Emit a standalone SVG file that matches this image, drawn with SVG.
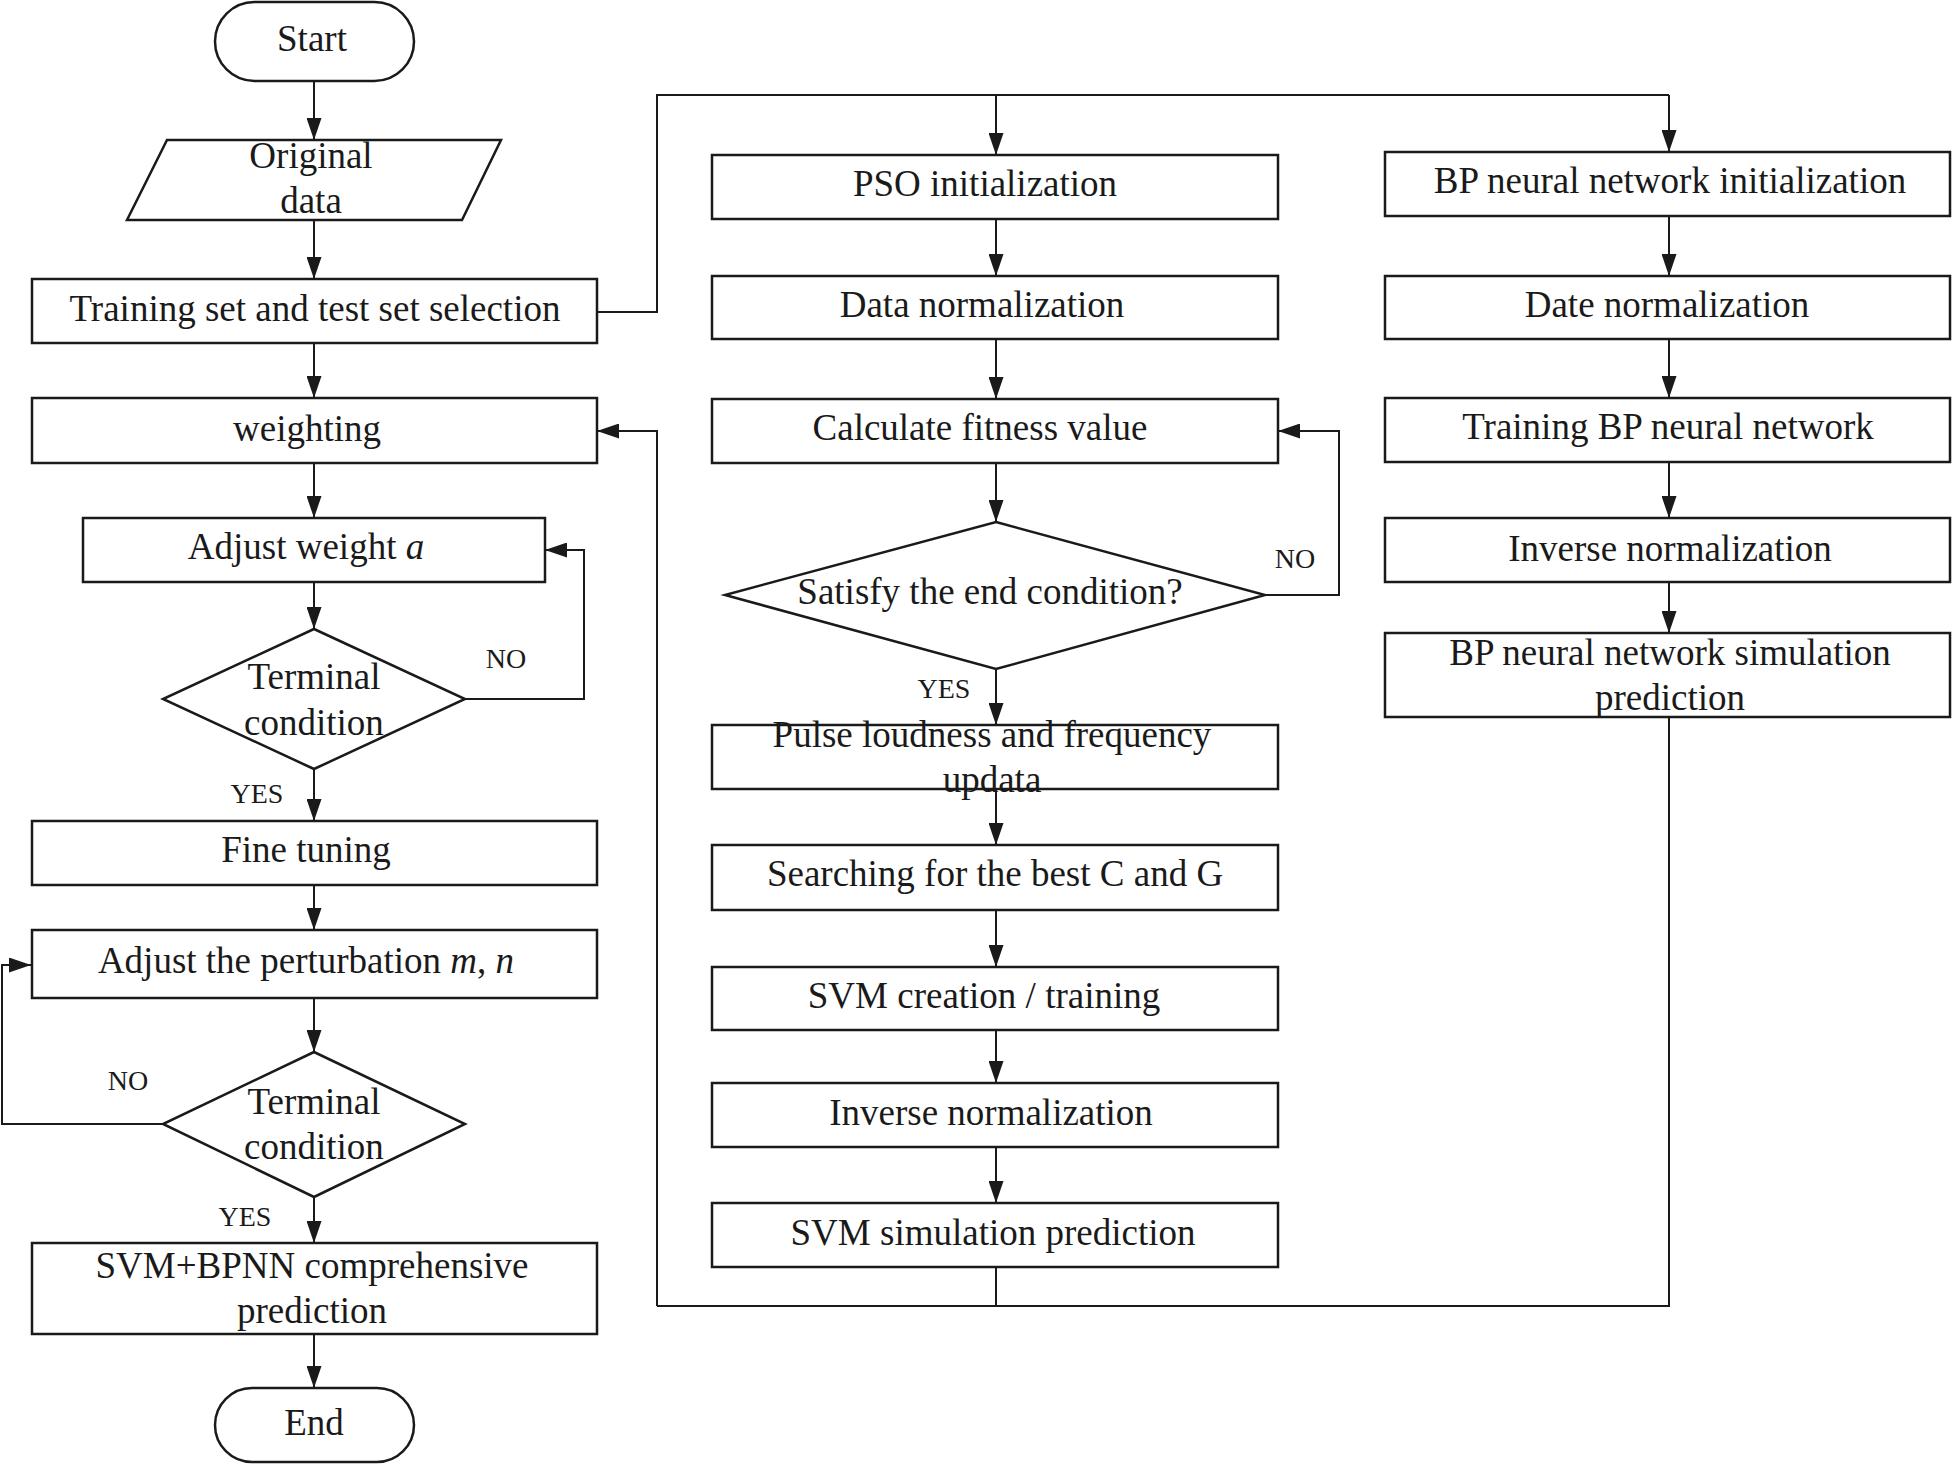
<svg xmlns="http://www.w3.org/2000/svg" width="1952" height="1465" viewBox="0 0 1952 1465">
<style>
.s{fill:#fff;stroke:#1a1a1a;stroke-width:2.5}
.t{font-family:"Liberation Serif","Times New Roman",serif;font-size:37px;fill:#1a1a1a;text-anchor:middle}
.l{font-family:"Liberation Serif","Times New Roman",serif;font-size:28px;fill:#1a1a1a;text-anchor:middle}
.c{fill:none;stroke:#1a1a1a;stroke-width:2}
.i{font-style:italic}
</style>
<defs>
<marker id="ah" markerUnits="userSpaceOnUse" markerWidth="22" markerHeight="15" viewBox="0 0 22 15" refX="22" refY="7.5" orient="auto">
<path d="M0,0 L22,7.5 L0,15 z" fill="#1a1a1a"/>
</marker>
</defs>
<rect width="1952" height="1465" fill="#fff"/>
<g id="connectors">
<path class="c" d="M314,81 V140" marker-end="url(#ah)"/>
<path class="c" d="M314,220 V279" marker-end="url(#ah)"/>
<path class="c" d="M314,343 V398" marker-end="url(#ah)"/>
<path class="c" d="M314,463 V518" marker-end="url(#ah)"/>
<path class="c" d="M314,582 V629" marker-end="url(#ah)"/>
<path class="c" d="M465,699 H584 V550 H545" marker-end="url(#ah)"/>
<path class="c" d="M314,769 V821" marker-end="url(#ah)"/>
<path class="c" d="M314,885 V930" marker-end="url(#ah)"/>
<path class="c" d="M314,998 V1052" marker-end="url(#ah)"/>
<path class="c" d="M163,1124 H2 V965 H31" marker-end="url(#ah)"/>
<path class="c" d="M314,1197 V1243" marker-end="url(#ah)"/>
<path class="c" d="M314,1334 V1388" marker-end="url(#ah)"/>
<path class="c" d="M597,312 H657 V95 H1669"/>
<path class="c" d="M996,95 V155" marker-end="url(#ah)"/>
<path class="c" d="M1669,95 V152" marker-end="url(#ah)"/>
<path class="c" d="M996,219 V276" marker-end="url(#ah)"/>
<path class="c" d="M996,339 V399" marker-end="url(#ah)"/>
<path class="c" d="M996,463 V522" marker-end="url(#ah)"/>
<path class="c" d="M996,669 V725" marker-end="url(#ah)"/>
<path class="c" d="M996,789 V845" marker-end="url(#ah)"/>
<path class="c" d="M996,910 V967" marker-end="url(#ah)"/>
<path class="c" d="M996,1030 V1083" marker-end="url(#ah)"/>
<path class="c" d="M996,1147 V1203" marker-end="url(#ah)"/>
<path class="c" d="M1265,595 H1339 V431 H1278" marker-end="url(#ah)"/>
<path class="c" d="M1669,216 V276" marker-end="url(#ah)"/>
<path class="c" d="M1669,339 V398" marker-end="url(#ah)"/>
<path class="c" d="M1669,462 V518" marker-end="url(#ah)"/>
<path class="c" d="M1669,582 V633" marker-end="url(#ah)"/>
<path class="c" d="M996,1267 V1306"/>
<path class="c" d="M1669,717 V1306 H657"/>
<path class="c" d="M657,1306 V431 H597" marker-end="url(#ah)"/>
<text class="l" x="506" y="668">NO</text>
<text class="l" x="257" y="803">YES</text>
<text class="l" x="128" y="1090">NO</text>
<text class="l" x="245" y="1226">YES</text>
<text class="l" x="1295" y="568">NO</text>
<text class="l" x="944" y="698">YES</text>
</g>
<g id="start"><rect class="s" x="215" y="2" width="199" height="79" rx="39.5"/><text class="t" x="312" y="51">Start</text></g>
<g id="original"><polygon class="s" points="167,140 501,140 462,220 127,220"/><text class="t" x="311" y="168">Original</text><text class="t" x="311" y="213">data</text></g>
<g id="training"><rect class="s" x="32" y="279" width="565" height="64"/><text class="t" x="315" y="321">Training set and test set selection</text></g>
<g id="weighting"><rect class="s" x="32" y="398" width="565" height="65"/><text class="t" x="307" y="441">weighting</text></g>
<g id="adjust-weight"><rect class="s" x="83" y="518" width="462" height="64"/><text class="t" x="306" y="559">Adjust weight <tspan class="i">a</tspan></text></g>
<g id="terminal1"><polygon class="s" points="314,629 465,699 314,769 163,699"/><text class="t" x="314" y="689">Terminal</text><text class="t" x="314" y="735">condition</text></g>
<g id="fine-tuning"><rect class="s" x="32" y="821" width="565" height="64"/><text class="t" x="306" y="862">Fine tuning</text></g>
<g id="adjust-perturbation"><rect class="s" x="32" y="930" width="565" height="68"/><text class="t" x="306" y="973">Adjust the perturbation <tspan class="i">m</tspan>, <tspan class="i">n</tspan></text></g>
<g id="terminal2"><polygon class="s" points="314,1052 465,1124 314,1197 163,1124"/><text class="t" x="314" y="1114">Terminal</text><text class="t" x="314" y="1159">condition</text></g>
<g id="comprehensive"><rect class="s" x="32" y="1243" width="565" height="91"/><text class="t" x="312" y="1278">SVM+BPNN comprehensive</text><text class="t" x="312" y="1323">prediction</text></g>
<g id="end"><rect class="s" x="215" y="1388" width="199" height="74" rx="37"/><text class="t" x="314" y="1435">End</text></g>
<g id="pso-init"><rect class="s" x="712" y="155" width="566" height="64"/><text class="t" x="985" y="196">PSO initialization</text></g>
<g id="data-norm"><rect class="s" x="712" y="276" width="566" height="63"/><text class="t" x="982" y="317">Data normalization</text></g>
<g id="fitness"><rect class="s" x="712" y="399" width="566" height="64"/><text class="t" x="980" y="440">Calculate fitness value</text></g>
<g id="end-condition"><polygon class="s" points="996,522 1265,595 996,669 725,595"/><text class="t" x="990" y="604">Satisfy the end condition?</text></g>
<g id="pulse"><rect class="s" x="712" y="725" width="566" height="64"/><text class="t" x="992" y="747">Pulse loudness and frequency</text><text class="t" x="992" y="792">updata</text></g>
<g id="searching"><rect class="s" x="712" y="845" width="566" height="65"/><text class="t" x="995" y="886">Searching for the best C and G</text></g>
<g id="svm-train"><rect class="s" x="712" y="967" width="566" height="63"/><text class="t" x="984" y="1008">SVM creation / training</text></g>
<g id="svm-inverse"><rect class="s" x="712" y="1083" width="566" height="64"/><text class="t" x="991" y="1125">Inverse normalization</text></g>
<g id="svm-sim"><rect class="s" x="712" y="1203" width="566" height="64"/><text class="t" x="993" y="1245">SVM simulation prediction</text></g>
<g id="bp-init"><rect class="s" x="1385" y="152" width="565" height="64"/><text class="t" x="1670" y="193">BP neural network initialization</text></g>
<g id="date-norm"><rect class="s" x="1385" y="276" width="565" height="63"/><text class="t" x="1667" y="317">Date normalization</text></g>
<g id="bp-train"><rect class="s" x="1385" y="398" width="565" height="64"/><text class="t" x="1668" y="439">Training BP neural network</text></g>
<g id="bp-inverse"><rect class="s" x="1385" y="518" width="565" height="64"/><text class="t" x="1670" y="561">Inverse normalization</text></g>
<g id="bp-sim"><rect class="s" x="1385" y="633" width="565" height="84"/><text class="t" x="1670" y="665">BP neural network simulation</text><text class="t" x="1670" y="710">prediction</text></g>
</svg>
